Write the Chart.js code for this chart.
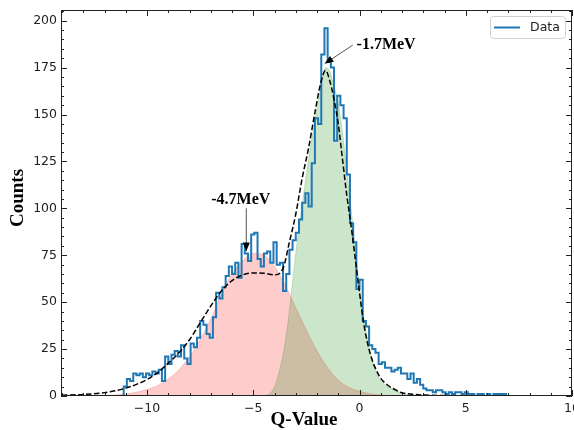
<!DOCTYPE html>
<html>
<head>
<meta charset="utf-8">
<script src="https://cdn.jsdelivr.net/npm/chart.js@4.4.1/dist/chart.umd.min.js"></script>
<style>
  html, body { margin: 0; padding: 0; background: #fff; }
  canvas { display: block; }
</style>
</head>
<body>
<canvas id="qvalueChart" width="574" height="430"></canvas>
<script>
// histogram: bins of width 0.15 starting at -11.1
const binStart = -11.1;
const binWidth = 0.15;
const counts = [
  5, 9, 8, 12, 11, 12, 10, 12, 11, 13,
  12, 14, 8, 21, 17, 22, 24, 21, 27, 20,
  17, 28, 26, 31, 40, 38, 33, 31, 42, 55,
  52, 58, 64, 69, 65, 71, 63, 81, 76, 72,
  86, 87, 73, 69, 76, 77, 71, 82, 70, 71,
  56, 65, 78, 83, 87, 94, 103, 108, 101, 124,
  148, 145, 182, 196, 178, 175, 136, 160, 155, 148,
  118, 92, 82, 57, 62, 40, 37, 27, 25, 23,
  17, 18, 15, 15, 13, 14, 15, 12, 12, 9,
  12, 7, 9, 6, 4, 3, 3, 2, 3, 3,
  2, 1, 2, 1, 2, 2, 1, 2, 1, 1,
  0, 1, 1, 0, 1, 0, 1, 1, 1, 1,
  0
];

// total fit (dashed)
const fitX = [-14, -13, -12, -11.5, -11, -10.5, -10, -9.5, -9, -8.5, -8, -7.5, -7, -6.5, -6, -5.5, -5, -4.5, -4, -3.6, -3.3, -3, -2.7, -2.4, -2.1, -1.8, -1.6, -1.4, -1.2, -1, -0.8, -0.6, -0.4, -0.2, 0, 0.2, 0.4, 0.6, 0.8, 1, 1.3, 1.7, 2, 2.5, 3, 4, 6, 8, 10];
const fitY = [0.4, 0.8, 1.8, 2.8, 4.2, 6.2, 8.8, 12.5, 17.5, 23, 30, 39, 48, 56, 61.5, 64.5, 65.6, 65.4, 64.6, 68, 82, 97, 116, 132, 151, 168, 173.5, 168, 158, 145, 126, 107, 91, 73, 55, 38.5, 27, 19, 13.5, 9.4, 6, 3.2, 1.7, 0.9, 0.5, 0.2, 0.05, 0, 0];

// -4.7 MeV component (red)
const lowX = [-12, -11.5, -11, -10.5, -10, -9.5, -9, -8.5, -8, -7.5, -7, -6.5, -6, -5.5, -5, -4.5, -4, -3.5, -3, -2.5, -2, -1.5, -1, -0.5, 0, 0.5, 1, 1.5, 2];
const lowY = [0.2, 0.5, 1, 2, 3.5, 5.5, 9, 14, 21, 30, 41, 54, 65, 72, 76, 75, 69, 59, 47, 35, 24, 15, 8.5, 4.5, 2.5, 1.2, 0.5, 0.2, 0];

// -1.7 MeV component (green)
const highX = [-5, -4.5, -4.25, -4, -3.8, -3.6, -3.4, -3.2, -3, -2.8, -2.6, -2.4, -2.2, -2, -1.8, -1.6, -1.4, -1.2, -1, -0.8, -0.6, -0.4, -0.2, 0, 0.2, 0.4, 0.6, 0.8, 1, 1.3, 1.7, 2, 2.5, 3];
const highY = [0, 0.3, 1, 5, 12, 22, 36, 56, 76, 94, 110, 126, 140, 153, 166, 175, 173, 165, 156, 140, 120, 100, 78, 58, 42, 29, 19, 12, 8, 5, 3, 1.5, 0.5, 0];

const peakLabels = ['-1.7MeV', '-4.7MeV'];

const toPoints = (xs, ys) => xs.map((x, i) => ({ x: x, y: ys[i] }));

// step outline like matplotlib histtype="step"
const histPoints = [{ x: binStart, y: 0 }];
counts.forEach((c, i) => histPoints.push({ x: binStart + i * binWidth, y: c }));
histPoints.push({ x: binStart + counts.length * binWidth, y: 0 });

const minus = v => (v < 0 ? '\u2212' + Math.abs(v) : String(v));

const frameAndExtras = {
  id: 'frameAndExtras',
  afterDraw(chart) {
    const { ctx, chartArea: a, scales: { x, y } } = chart;
    ctx.save();

    // frame + inward ticks on all four sides
    ctx.strokeStyle = '#222';
    ctx.lineWidth = 1;
    ctx.strokeRect(a.left + 0.5, a.top + 0.5, a.right - a.left - 1, a.bottom - a.top - 1);
    ctx.beginPath();
    x.ticks.forEach(t => {
      const px = Math.round(x.getPixelForValue(t.value)) + 0.5;
      const len = t.value % 5 === 0 ? 6 : 3;
      ctx.moveTo(px, a.bottom); ctx.lineTo(px, a.bottom - len);
      ctx.moveTo(px, a.top); ctx.lineTo(px, a.top + len);
    });
    y.ticks.forEach(t => {
      const py = Math.round(y.getPixelForValue(t.value)) + 0.5;
      const len = t.value % 25 === 0 ? 6 : 3;
      ctx.moveTo(a.left, py); ctx.lineTo(a.left + len, py);
      ctx.moveTo(a.right, py); ctx.lineTo(a.right - len, py);
    });
    ctx.stroke();

    // arrows
    const arrow = (x0, y0, x1, y1) => {
      const p0 = [x.getPixelForValue(x0), y.getPixelForValue(y0)];
      const p1 = [x.getPixelForValue(x1), y.getPixelForValue(y1)];
      const ang = Math.atan2(p1[1] - p0[1], p1[0] - p0[0]);
      ctx.strokeStyle = '#555';
      ctx.lineWidth = 1;
      ctx.beginPath();
      ctx.moveTo(p0[0], p0[1]);
      ctx.lineTo(p1[0] - 7 * Math.cos(ang), p1[1] - 7 * Math.sin(ang));
      ctx.stroke();
      ctx.fillStyle = '#000';
      ctx.beginPath();
      ctx.moveTo(p1[0], p1[1]);
      ctx.lineTo(p1[0] - 9 * Math.cos(ang) + 3.5 * Math.sin(ang), p1[1] - 9 * Math.sin(ang) - 3.5 * Math.cos(ang));
      ctx.lineTo(p1[0] - 9 * Math.cos(ang) - 3.5 * Math.sin(ang), p1[1] - 9 * Math.sin(ang) + 3.5 * Math.cos(ang));
      ctx.closePath();
      ctx.fill();
    };
    arrow(-0.32, 187, -1.65, 177);
    arrow(-5.33, 100, -5.33, 77);

    ctx.fillStyle = '#000';
    ctx.font = 'bold 16px "Liberation Serif", "Times New Roman", serif';
    ctx.textBaseline = 'middle';
    ctx.textAlign = 'left';
    ctx.fillText(peakLabels[0], x.getPixelForValue(-0.14), y.getPixelForValue(187));
    ctx.fillText(peakLabels[1], x.getPixelForValue(-6.98), y.getPixelForValue(104.5));

    // axis titles
    ctx.font = 'bold 19px "Liberation Serif", "Times New Roman", serif';
    ctx.textAlign = 'center';
    ctx.fillText('Q-Value', 304, 420);
    ctx.save();
    ctx.translate(18, 198);
    ctx.rotate(-Math.PI / 2);
    ctx.fillText('Counts', 0, 0);
    ctx.restore();

    // legend box in upper right
    const lx = 490, ly = 16, lw = 75, lh = 22;
    ctx.fillStyle = 'rgba(255,255,255,0.8)';
    ctx.strokeStyle = '#d0d0d0';
    ctx.lineWidth = 1;
    ctx.beginPath();
    ctx.roundRect(lx + 0.5, ly + 0.5, lw, lh, 3);
    ctx.fill();
    ctx.stroke();
    ctx.strokeStyle = '#1f77b4';
    ctx.lineWidth = 2;
    ctx.beginPath();
    ctx.moveTo(494, 27.5); ctx.lineTo(520, 27.5);
    ctx.stroke();
    ctx.fillStyle = '#222';
    ctx.font = '12.5px "DejaVu Sans", sans-serif';
    ctx.textAlign = 'left';
    ctx.fillText(chart.data.datasets[2].label, 530, 28);

    ctx.restore();
  }
};

new Chart(document.getElementById('qvalueChart'), {
  type: 'line',
  data: {
    datasets: [
      {
        label: 'Fit',
        data: toPoints(fitX, fitY),
        borderColor: '#000',
        borderWidth: 1.5,
        borderDash: [5.5, 2.5],
        cubicInterpolationMode: 'monotone',
        pointRadius: 0,
        fill: false,
        order: 1
      },
      {
        label: '-1.7MeV',
        data: toPoints(highX, highY),
        borderColor: 'rgba(0,128,0,0.2)',
        backgroundColor: 'rgba(0,128,0,0.2)',
        borderWidth: 1,
        cubicInterpolationMode: 'monotone',
        pointRadius: 0,
        fill: 'origin',
        order: 3
      },
      {
        label: 'Data',
        data: histPoints,
        borderColor: '#1f77b4',
        borderWidth: 2,
        stepped: true,
        pointRadius: 0,
        fill: false,
        order: 2
      },
      {
        label: '-4.7MeV',
        data: toPoints(lowX, lowY),
        borderColor: 'rgba(255,0,0,0.2)',
        backgroundColor: 'rgba(255,0,0,0.2)',
        borderWidth: 1,
        cubicInterpolationMode: 'monotone',
        pointRadius: 0,
        fill: 'origin',
        order: 4
      }
    ]
  },
  options: {
    responsive: false,
    animation: false,
    layout: { padding: { top: 10, right: 2, left: 0, bottom: 0 } },
    plugins: {
      legend: { display: false },
      tooltip: { enabled: false }
    },
    scales: {
      x: {
        type: 'linear',
        min: -14.05,
        max: 10,
        grid: { display: false, drawTicks: false, tickLength: 0 },
        border: { display: false },
        ticks: {
          stepSize: 1,
          includeBounds: false,
          autoSkip: false,
          maxRotation: 0,
          padding: 5,
          color: '#222',
          font: { family: 'DejaVu Sans', size: 12.5 },
          callback: v => (v % 5 === 0 ? minus(v) : '')
        },
        afterFit: s => { s.height = 34; s.paddingLeft = 0; s.paddingRight = 0; }
      },
      y: {
        min: 0,
        max: 205.7,
        grid: { display: false, drawTicks: false, tickLength: 0 },
        border: { display: false },
        ticks: {
          stepSize: 5,
          includeBounds: false,
          autoSkip: false,
          padding: 4,
          color: '#222',
          font: { family: 'DejaVu Sans', size: 12.5 },
          callback: v => (v % 25 === 0 ? String(v) : '')
        },
        afterFit: s => { s.width = 61; s.paddingTop = 0; s.paddingBottom = 0; }
      }
    }
  },
  plugins: [frameAndExtras]
});
</script>
</body>
</html>
